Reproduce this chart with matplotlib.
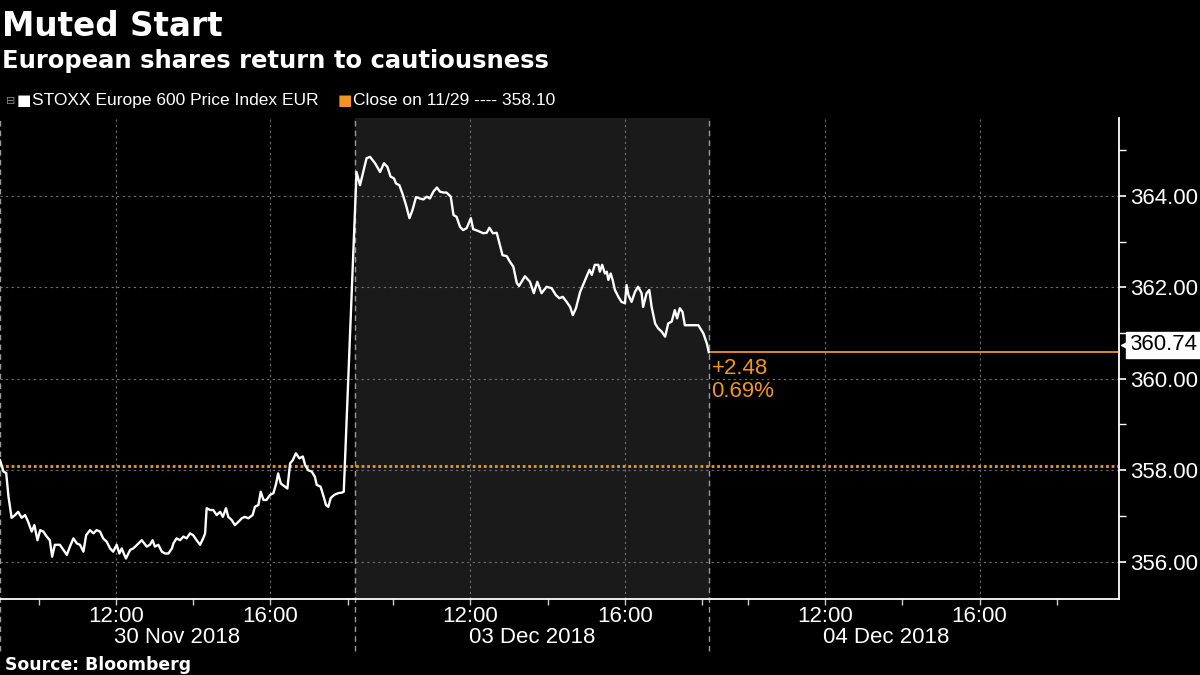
import matplotlib
matplotlib.use("Agg")
import matplotlib.pyplot as plt
import matplotlib.transforms as mtransforms
from matplotlib.ticker import FixedLocator, FormatStrFormatter, NullFormatter

plt.rcParams["font.family"] = ["Liberation Sans", "DejaVu Sans"]

# ---- data ----
day_labels = ["30 Nov 2018", "03 Dec 2018", "04 Dec 2018"]

nov30_hour = [9.00, 9.04, 9.09, 9.16, 9.22, 9.30, 9.39, 9.47, 9.56, 9.65, 9.73, 9.82, 9.89, 9.97,
              10.04, 10.12, 10.21, 10.29, 10.35, 10.42, 10.55, 10.64, 10.73, 10.81, 10.90, 10.99,
              11.07, 11.16, 11.23, 11.33, 11.42, 11.50, 11.59, 11.67, 11.76, 11.85, 11.93,
              12.02, 12.09, 12.15, 12.26, 12.37, 12.45, 12.55, 12.67, 12.80, 12.88, 12.95,
              13.01, 13.10, 13.19, 13.27, 13.36, 13.45, 13.49, 13.57, 13.66, 13.75, 13.83, 13.92,
              14.00, 14.09, 14.18, 14.26, 14.31, 14.35, 14.44, 14.52, 14.61, 14.70, 14.77, 14.85, 14.91,
              15.00, 15.08, 15.17, 15.26, 15.34, 15.43, 15.54, 15.60, 15.69, 15.75, 15.82, 15.90, 15.99,
              16.08, 16.15, 16.20, 16.27, 16.38, 16.44, 16.51, 16.58, 16.66, 16.75, 16.84, 16.90, 16.98,
              17.07, 17.15, 17.20, 17.30, 17.39, 17.44, 17.50, 17.56, 17.65, 17.76, 17.85, 17.90]
nov30_price = [358.22, 358.11, 357.97, 357.94, 357.42, 356.96, 357.02, 357.09, 356.96, 357.02, 356.87, 356.66, 356.80, 356.47,
               356.69, 356.66, 356.55, 356.47, 356.11, 356.37, 356.37, 356.26, 356.15, 356.33, 356.51, 356.40,
               356.37, 356.22, 356.58, 356.69, 356.62, 356.69, 356.66, 356.51, 356.44, 356.29, 356.22,
               356.37, 356.18, 356.29, 356.07, 356.26, 356.29, 356.37, 356.47, 356.33, 356.37, 356.47,
               356.33, 356.37, 356.22, 356.18, 356.18, 356.29, 356.40, 356.51, 356.47, 356.55, 356.51, 356.62,
               356.58, 356.47, 356.37, 356.51, 356.62, 357.17, 357.13, 357.13, 357.02, 357.09, 356.98, 357.17, 356.98,
               356.91, 356.80, 356.87, 356.95, 356.98, 356.95, 357.02, 357.20, 357.24, 357.53, 357.35, 357.35, 357.46,
               357.50, 357.71, 357.93, 357.71, 357.64, 357.60, 358.15, 358.22, 358.37, 358.26, 358.30, 358.11, 358.00,
               357.97, 357.86, 357.68, 357.64, 357.39, 357.24, 357.20, 357.39, 357.46, 357.50, 357.51, 357.53]

dec03_hour = [9.05, 9.14, 9.31, 9.40, 9.53, 9.66, 9.76, 9.85, 9.93,
              10.02, 10.07, 10.16, 10.25, 10.33, 10.42, 10.50, 10.59, 10.69, 10.78, 10.87, 10.95,
              11.04, 11.13, 11.21, 11.30, 11.38, 11.49, 11.56, 11.64, 11.73, 11.81, 11.90,
              12.01, 12.07, 12.20, 12.33, 12.42, 12.49, 12.58, 12.68, 12.83, 12.94,
              13.02, 13.11, 13.20, 13.26, 13.41, 13.54, 13.64, 13.73, 13.84, 13.97,
              14.10, 14.21, 14.30, 14.39, 14.49, 14.58, 14.65, 14.73, 14.84, 14.97,
              15.08, 15.14, 15.22, 15.31, 15.35, 15.41, 15.48, 15.53, 15.57, 15.63, 15.68, 15.74, 15.83, 15.91,
              16.00, 16.04, 16.09, 16.17, 16.26, 16.34, 16.43, 16.47, 16.56, 16.63, 16.69, 16.78, 16.86, 16.95,
              17.04, 17.12, 17.21, 17.29, 17.35, 17.42, 17.49, 17.55, 17.90, 18.03, 18.12, 18.17]
dec03_price = [364.52, 364.23, 364.82, 364.85, 364.71, 364.52, 364.71, 364.63, 364.42,
               364.38, 364.27, 364.23, 364.02, 363.80, 363.51, 363.69, 363.97, 363.94, 363.92, 363.98, 363.94,
               364.09, 364.18, 364.09, 364.07, 364.07, 363.98, 363.58, 363.54, 363.32, 363.25, 363.29,
               363.51, 363.27, 363.23, 363.18, 363.19, 363.30, 363.18, 363.19, 362.70, 362.68,
               362.56, 362.45, 362.09, 362.03, 362.24, 362.12, 361.87, 362.12, 361.87, 362.01,
               361.98, 361.83, 361.76, 361.79, 361.68, 361.57, 361.39, 361.54, 361.90, 362.16,
               362.38, 362.27, 362.49, 362.49, 362.34, 362.49, 362.30, 362.34, 362.16, 362.30, 362.16, 361.94, 361.79, 361.68,
               361.65, 362.05, 361.83, 361.68, 361.90, 362.01, 361.87, 361.57, 361.87, 361.94, 361.57, 361.21, 361.10, 361.03,
               360.92, 361.21, 361.25, 361.50, 361.32, 361.54, 361.46, 361.17, 361.17, 360.99, 360.77, 360.58]

prev_close = 358.10
last_label = 360.74
change_abs = "+2.48"
change_pct = "0.69%"

# session axis: each trading day is squeezed into 9.18 "hours" starting 09:00
DAY = 9.18
OPEN = 9.0
ORANGE = "#f0961e"

t = [h - OPEN for h in nov30_hour] + [DAY + h - OPEN for h in dec03_hour]

fig = plt.figure(figsize=(12, 6.75), dpi=100, facecolor="black")
ax = fig.add_axes([0.0, 0.1126, 0.9325, 0.7126], facecolor="black")

ax.set_xlim(0, 28.97)
ax.set_ylim(355.185, 365.70)

# shaded middle session
ax.axvspan(DAY, 2 * DAY, color="#1a1a1a", zorder=0)

# grid
for y in [356, 358, 360, 362, 364]:
    ax.axhline(y, color="#707070", lw=0.8, ls=(0, (2, 3)), zorder=1)
for d in range(3):
    for h in [12, 16]:
        ax.axvline(d * DAY + h - OPEN, color="#707070", lw=0.8, ls=(0, (2, 3)), zorder=1)
# day separators, running down through the date labels
for d in range(3):
    ax.axvline(d * DAY, ymin=-0.108, ymax=1, color="#9a9a9a", lw=1, ls=(0, (4, 3)),
               clip_on=False, zorder=1)

# previous close and last value
ax.axhline(prev_close, color=ORANGE, lw=2, ls=(0, (1, 1)), zorder=2)
ax.plot([t[-1], 28.97], [dec03_price[-1], dec03_price[-1]], color=ORANGE, lw=1.3, zorder=2)

ax.plot(t, nov30_price + dec03_price, color="white", lw=1.7, zorder=3,
        solid_joinstyle="round")

ax.annotate(change_abs, (t[-1], dec03_price[-1]), xytext=(2, -4), textcoords="offset points",
            color=ORANGE, fontsize=16, ha="left", va="top")
ax.annotate(change_pct, (t[-1], dec03_price[-1]), xytext=(2, -21), textcoords="offset points",
            color=ORANGE, fontsize=16, ha="left", va="top")

# spines
for s in ["top", "left"]:
    ax.spines[s].set_visible(False)
ax.spines["right"].set_color("white")
ax.spines["bottom"].set_color("white")
ax.spines["right"].set_linewidth(1.3)
ax.spines["bottom"].set_linewidth(1.3)

# y axis on the right
ax.yaxis.tick_right()
ax.yaxis.set_major_locator(FixedLocator([356, 358, 360, 362, 364]))
ax.yaxis.set_major_formatter(FormatStrFormatter("%.2f"))
ax.yaxis.set_minor_locator(FixedLocator([357, 359, 361, 363, 365]))
ax.tick_params(axis="y", which="major", colors="white", labelcolor="white", labelsize=16,
               length=5, width=1.2, pad=3)
ax.tick_params(axis="y", which="minor", colors="white", length=5, width=1)

# x axis: ticks every 2h, labels at 12:00 and 16:00
minor_x = [d * DAY + h - OPEN for d in range(3) for h in [10, 12, 14, 16, 18]]
major_x = [d * DAY + h - OPEN for d in range(3) for h in [12, 16]]
ax.xaxis.set_minor_locator(FixedLocator(minor_x))
ax.xaxis.set_minor_formatter(NullFormatter())
ax.xaxis.set_major_locator(FixedLocator(major_x))
ax.set_xticklabels(["12:00", "16:00"] * 3)
ax.tick_params(axis="x", which="both", colors="#cccccc", labelcolor="white", labelsize=16,
               length=4, width=1, pad=1)

trans = mtransforms.blended_transform_factory(ax.transData, ax.transAxes)
for d, lab in enumerate(day_labels):
    ax.text(d * DAY + DAY / 2, -0.08, lab, transform=trans, color="white", fontsize=16,
            ha="center", va="center")

# last value tag on the right axis
ytrans = mtransforms.blended_transform_factory(ax.transAxes, ax.transData)
ax.text(1.009, last_label, f"{last_label:.2f}", transform=ytrans, color="black", fontsize=16,
        ha="left", va="center", zorder=5,
        bbox=dict(boxstyle="square,pad=0.12", fc="white", ec="white"))
ax.plot([1.006], [last_label], marker="<", ms=7, color="white", transform=ytrans,
        clip_on=False, zorder=5)

# titles and legend
fig.text(0.002, 0.9467, "Muted Start", color="white", fontsize=23.5, fontweight="bold",
         ha="left", va="baseline", family="DejaVu Sans")
fig.text(0.002, 0.8993, "European shares return to cautiousness", color="white", fontsize=17.5,
         fontweight="bold", ha="left", va="baseline", family="DejaVu Sans")

fig.text(0.005, 0.851, "\u229f", color="#888888", fontsize=8, ha="left", va="center",
         family="DejaVu Sans")
fig.text(0.0135, 0.851, "\u25a0", color="white", fontsize=11, ha="left", va="center",
         family="DejaVu Sans")
fig.text(0.027, 0.851, "STOXX Europe 600 Price Index EUR", color="white", fontsize=12.5,
         ha="left", va="center")
fig.text(0.2815, 0.851, "\u25a0", color=ORANGE, fontsize=11, ha="left", va="center",
         family="DejaVu Sans")
fig.text(0.2945, 0.851, "Close on 11/29 ---- 358.10", color="white", fontsize=12.5,
         ha="left", va="center")

fig.text(0.004, 0.0075, "Source: Bloomberg", color="white", fontsize=12.4, fontweight="bold",
         ha="left", va="baseline", family="DejaVu Sans")

fig.savefig("out.png", dpi=100, facecolor="black")
